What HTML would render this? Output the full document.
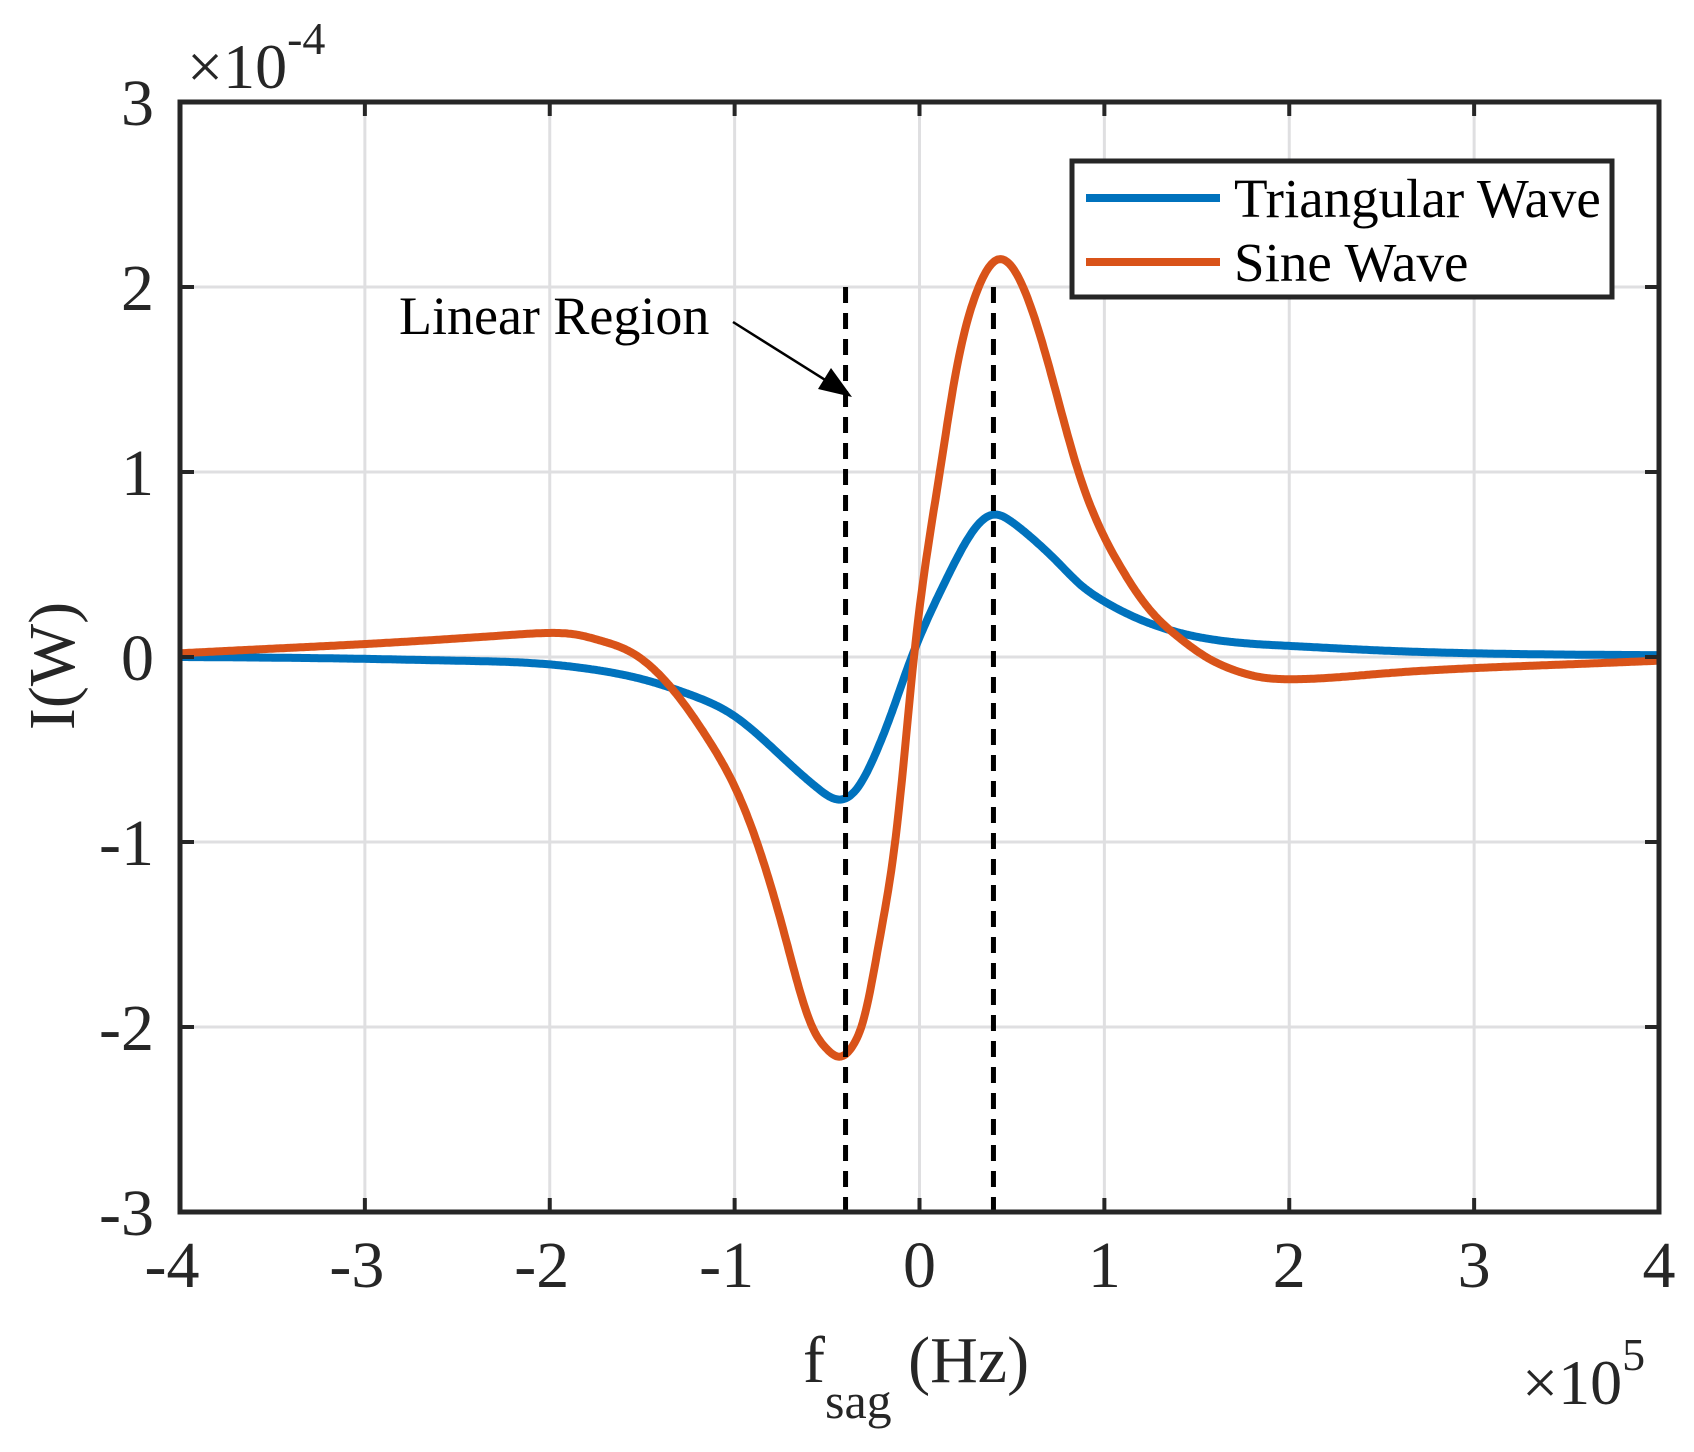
<!DOCTYPE html>
<html><head><meta charset="utf-8"><style>
html,body{margin:0;padding:0;background:#fff;}
svg{display:block;font-family:"Liberation Serif",serif;}
</style></head><body>
<svg id="chart" width="1694" height="1452" viewBox="0 0 1694 1452" xmlns="http://www.w3.org/2000/svg">
<g id="grid"></g>
<g id="series"></g>
<g id="frame"></g>
<g id="labels"></g>
<text x="0" y="0" transform="translate(74,666) rotate(-90)" text-anchor="middle" font-size="66" fill="#262626">I(W)</text>
<text x="803" y="1382" font-size="66" fill="#262626">f<tspan font-size="50" dy="36">sag</tspan><tspan dy="-36"> (Hz)</tspan></text>
<text x="1522" y="1404" font-size="64" fill="#262626">×10<tspan font-size="46" dy="-34">5</tspan></text>
<text x="187" y="88" font-size="64" fill="#262626">×10<tspan font-size="46" dy="-34">-4</tspan></text>
<g>
<text x="399" y="334" font-size="54" fill="#000">Linear Region</text>
<line x1="733" y1="322" x2="838" y2="388" stroke="#000" stroke-width="2.5"/>
<polygon points="852,397 818,389 831,368" fill="#000"/>
</g>
<g>
<rect x="1072" y="161" width="540" height="136" fill="#fff" stroke="#262626" stroke-width="5"/>
<line x1="1086" y1="198" x2="1220" y2="198" stroke="#0072BD" stroke-width="8"/>
<text x="1234" y="217" font-size="55" fill="#000">Triangular Wave</text>
<line x1="1086" y1="262" x2="1220" y2="262" stroke="#D95319" stroke-width="8"/>
<text x="1234" y="281" font-size="55" fill="#000">Sine Wave</text>
</g>
</svg>
<script>
const xTicks = [-4,-3,-2,-1,0,1,2,3,4];
const yTicks = [-3,-2,-1,0,1,2,3];
const triX = [-4,-3,-2.5,-2,-1.75,-1.5,-1.25,-1,-0.83,-0.7,-0.55,-0.42,-0.33,-0.25,-0.15,-0.05,0.05,0.15,0.25,0.33,0.41,0.5,0.6,0.76,0.86,1,1.2,1.41,1.7,2,2.5,3,4];
const triY = [0,-0.01,-0.02,-0.04,-0.07,-0.12,-0.2,-0.32,-0.46,-0.58,-0.71,-0.77,-0.7,-0.55,-0.3,-0.02,0.22,0.43,0.62,0.73,0.77,0.73,0.65,0.5,0.4,0.3,0.2,0.13,0.08,0.06,0.035,0.02,0.01];
const sinX = [-4,-3.5,-3,-2.5,-2.2,-2,-1.85,-1.73,-1.55,-1.37,-1.14,-1,-0.88,-0.73,-0.58,-0.5,-0.44,-0.36,-0.3,-0.22,-0.12,-0.03,0.11,0.19,0.32,0.43,0.56,0.72,0.86,1.08,1.25,1.41,1.55,1.7,1.85,2,2.5,3,3.5,4];
const sinY = [0.02,0.045,0.07,0.1,0.12,0.13,0.12,0.09,0.02,-0.135,-0.45,-0.7,-1.0,-1.5,-2.0,-2.12,-2.16,-2.1,-1.95,-1.55,-0.9,0,1.0,1.5,2.0,2.15,2.0,1.5,1.0,0.5,0.25,0.1,0,-0.07,-0.11,-0.12,-0.09,-0.06,-0.04,-0.02];
const markers = [-0.4, 0.4];
const X0=180,X1=1659,Y0=102,Y1=1212;
const xs=v=>X0+(v+4)/8*(X1-X0);
const ys=v=>Y0+(3-v)/6*(Y1-Y0);
const NS='http://www.w3.org/2000/svg';
function mk(tag,attrs,parent){const e=document.createElementNS(NS,tag);for(const k in attrs)e.setAttribute(k,attrs[k]);parent.appendChild(e);return e;}
const grid=document.getElementById('grid'),frame=document.getElementById('frame'),labels=document.getElementById('labels'),series=document.getElementById('series');
xTicks.forEach(t=>{
 const g=mk('line',{x1:xs(t),x2:xs(t),y1:Y0,y2:Y1,stroke:'#dfdfe1','stroke-width':3},grid);
 
 
 const a=mk('line',{x1:xs(t),x2:xs(t),y1:Y1,y2:Y1-14,stroke:'#262626','stroke-width':4},frame);
 
 
 const b=mk('line',{x1:xs(t),x2:xs(t),y1:Y0,y2:Y0+14,stroke:'#262626','stroke-width':4},frame);
 
 
 const l=mk('text',{x:xs(t)-(t<0?8:0),y:1287,'text-anchor':'middle','font-size':66,fill:'#262626'},labels);
 l.textContent=String(t);
 
 
});
yTicks.forEach(t=>{
 const g=mk('line',{x1:X0,x2:X1,y1:ys(t),y2:ys(t),stroke:'#dfdfe1','stroke-width':3},grid);
 
 
 const a=mk('line',{x1:X0,x2:X0+14,y1:ys(t),y2:ys(t),stroke:'#262626','stroke-width':4},frame);
 
 
 const b=mk('line',{x1:X1,x2:X1-14,y1:ys(t),y2:ys(t),stroke:'#262626','stroke-width':4},frame);
 
 
 const l=mk('text',{x:154,y:ys(t)+23,'text-anchor':'end','font-size':66,fill:'#262626'},labels);
 l.textContent=String(t);
 
 
});
const fr=mk('rect',{x:X0,y:Y0,width:X1-X0,height:Y1-Y0,fill:'none',stroke:'#262626','stroke-width':5},frame);


// natural cubic spline through data points, sampled densely
function spline(X,Y){
 const n=X.length,h=[],al=[],l=[1],mu=[0],z=[0],c=new Array(n).fill(0),b=[],d=[];
 for(let i=0;i<n-1;i++)h.push(X[i+1]-X[i]);
 for(let i=1;i<n-1;i++)al[i]=3/h[i]*(Y[i+1]-Y[i])-3/h[i-1]*(Y[i]-Y[i-1]);
 for(let i=1;i<n-1;i++){l[i]=2*(X[i+1]-X[i-1])-h[i-1]*mu[i-1];mu[i]=h[i]/l[i];z[i]=(al[i]-h[i-1]*z[i-1])/l[i];}
 for(let j=n-2;j>=0;j--){c[j]=(j===0?0:z[j]-mu[j]*c[j+1]);b[j]=(Y[j+1]-Y[j])/h[j]-h[j]*(c[j+1]+2*c[j])/3;d[j]=(c[j+1]-c[j])/(3*h[j]);}
 const pts=[];
 for(let j=0;j<n-1;j++){
  const steps=Math.max(4,Math.ceil(h[j]*120));
  for(let s=0;s<steps;s++){const t=h[j]*s/steps;pts.push([xs(X[j]+t),ys(Y[j]+b[j]*t+c[j]*t*t+d[j]*t*t*t)]);}
 }
 pts.push([xs(X[n-1]),ys(Y[n-1])]);
 return 'M'+pts.map(p=>p[0].toFixed(1)+','+p[1].toFixed(1)).join(' L');
}
const pt=mk('path',{d:spline(triX,triY),fill:'none',stroke:'#0072BD','stroke-width':8,'stroke-linejoin':'round'},series);


const psn=mk('path',{d:spline(sinX,sinY),fill:'none',stroke:'#D95319','stroke-width':8,'stroke-linejoin':'round'},series);


markers.forEach(m=>{
 const l=mk('line',{x1:xs(m),x2:xs(m),y1:ys(2),y2:Y1,stroke:'#000','stroke-width':5,'stroke-dasharray':'16,10'},series);
 
 
});
</script>
</body></html>
